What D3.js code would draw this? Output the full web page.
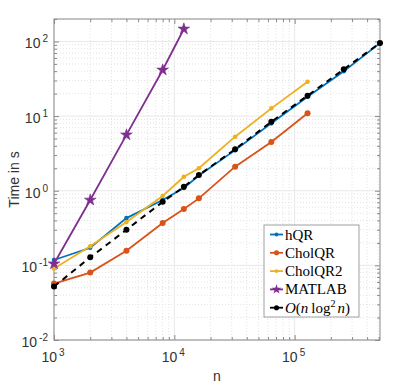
<!DOCTYPE html>
<html>
<head>
<meta charset="utf-8">
<script src="https://cdn.jsdelivr.net/npm/d3@7"></script>
<style>
body { margin: 0; background: #fff; }
</style>
</head>
<body>
<div id="chart"></div>
<script>
var nAll = [1000, 2000, 4000, 8000, 12000, 16000, 32000, 64000, 128000, 256000, 512000];
var hqr = [0.118, 0.172, 0.43, 0.75, 1.09, 1.6, 3.5, 8.0, 18.2, 40, 95];
var cholqr = [0.057, 0.080, 0.157, 0.37, 0.57, 0.79, 2.1, 4.5, 10.9];
var cholqr2 = [0.091, 0.18, 0.38, 0.85, 1.54, 2.0, 5.3, 12.7, 28.9];
var matlab = [0.105, 0.75, 5.6, 41.5, 147];
var model = [0.052, 0.128, 0.30, 0.71, 1.13, 1.62, 3.6, 8.4, 18.8, 42.4, 95.5];
var xTicks = [1e3, 1e4, 1e5];
var yTicks = [1e-2, 1e-1, 1e0, 1e1, 1e2];

var margin = { top: 19, right: 27, bottom: 45, left: 54 },
    width = 407 - margin.left - margin.right,
    h = 321;

var svg = d3.select("#chart")
    .append("svg")
    .attr("width", 407)
    .attr("height", 385);

var g = svg.append("g")
    .attr("transform", "translate(" + margin.left + "," + margin.top + ")");

var x = d3.scaleLog().domain([1000, 512000]).range([0, width]);
var y = d3.scaleLog().domain([0.01, 200]).range([h, 0]);

// minor tick values
var xMinor = [], yMinor = [];
[1e3, 1e4, 1e5].forEach(function (d) {
    for (var k = 2; k <= 9; k++) if (d * k <= 512000) xMinor.push(d * k);
});
[1e-2, 1e-1, 1, 10, 100].forEach(function (d) {
    for (var k = 2; k <= 9; k++) if (d * k <= 200) yMinor.push(d * k);
});

// grid
g.append("g").selectAll("line").data(xMinor).enter().append("line")
    .attr("x1", function (d) { return x(d); }).attr("x2", function (d) { return x(d); })
    .attr("y1", 0).attr("y2", h)
    .attr("stroke", "#e2e2e2").attr("stroke-dasharray", "1,2");
g.append("g").selectAll("line").data(yMinor).enter().append("line")
    .attr("y1", function (d) { return y(d); }).attr("y2", function (d) { return y(d); })
    .attr("x1", 0).attr("x2", width)
    .attr("stroke", "#e2e2e2").attr("stroke-dasharray", "1,2");
g.append("g").selectAll("line").data(xTicks).enter().append("line")
    .attr("x1", function (d) { return x(d); }).attr("x2", function (d) { return x(d); })
    .attr("y1", 0).attr("y2", h)
    .attr("stroke", "#e8e8e8");
g.append("g").selectAll("line").data(yTicks).enter().append("line")
    .attr("y1", function (d) { return y(d); }).attr("y2", function (d) { return y(d); })
    .attr("x1", 0).attr("x2", width)
    .attr("stroke", "#e8e8e8");

// axes with inward ticks on all four sides
function styleAxis(sel) {
    sel.select(".domain").remove();
    sel.selectAll("line").attr("stroke", "#8a8a8a");
}
g.append("g").attr("transform", "translate(0," + h + ")")
    .call(d3.axisBottom(x).tickValues(xTicks).tickSize(-5).tickFormat("")).call(styleAxis);
g.append("g").attr("transform", "translate(0," + h + ")")
    .call(d3.axisBottom(x).tickValues(xMinor).tickSize(-3).tickFormat("")).call(styleAxis);
g.append("g")
    .call(d3.axisTop(x).tickValues(xTicks).tickSize(-5).tickFormat("")).call(styleAxis);
g.append("g")
    .call(d3.axisTop(x).tickValues(xMinor).tickSize(-3).tickFormat("")).call(styleAxis);
g.append("g")
    .call(d3.axisLeft(y).tickValues(yTicks).tickSize(-5).tickFormat("")).call(styleAxis);
g.append("g")
    .call(d3.axisLeft(y).tickValues(yMinor).tickSize(-3).tickFormat("")).call(styleAxis);
g.append("g").attr("transform", "translate(" + width + ",0)")
    .call(d3.axisRight(y).tickValues(yTicks).tickSize(-5).tickFormat("")).call(styleAxis);
g.append("g").attr("transform", "translate(" + width + ",0)")
    .call(d3.axisRight(y).tickValues(yMinor).tickSize(-3).tickFormat("")).call(styleAxis);

g.append("rect")
    .attr("x", 0).attr("y", 0).attr("width", width).attr("height", h)
    .attr("fill", "none").attr("stroke", "#8a8a8a");

// tick labels 10^k
var font = "'Liberation Sans', Arial, sans-serif";
xTicks.forEach(function (d) {
    var t = g.append("text")
        .attr("x", x(d) - 1).attr("y", h + 22)
        .attr("text-anchor", "middle")
        .attr("font-family", font).attr("font-size", 14).attr("fill", "#333");
    t.append("tspan").text("10");
    t.append("tspan").attr("dx", 2).attr("dy", -6).attr("font-size", 10).text(Math.round(Math.log10(d)));
});
yTicks.forEach(function (d) {
    var t = g.append("text")
        .attr("x", -6).attr("y", y(d) + 7)
        .attr("text-anchor", "end")
        .attr("font-family", font).attr("font-size", 14).attr("fill", "#333");
    t.append("tspan").text("10");
    t.append("tspan").attr("dx", 2).attr("dy", -6).attr("font-size", 10).text(Math.round(Math.log10(d)));
});

// axis labels
g.append("text")
    .attr("x", width / 2).attr("y", h + 41)
    .attr("text-anchor", "middle")
    .attr("font-family", font).attr("font-size", 14).attr("fill", "#333")
    .text("n");
g.append("text")
    .attr("transform", "translate(-35," + (h / 2) + ") rotate(-90)")
    .attr("text-anchor", "middle")
    .attr("font-family", font).attr("font-size", 14).attr("fill", "#333")
    .text("Time in s");

// series
var series = [
    { name: "hQR", vals: hqr, color: "#0072BD", marker: "dot", r: 2.3 },
    { name: "CholQR", vals: cholqr, color: "#D95319", marker: "dot", r: 3 },
    { name: "CholQR2", vals: cholqr2, color: "#EDB120", marker: "dot", r: 2.3 },
    { name: "MATLAB", vals: matlab, color: "#7E2F8E", marker: "star", r: 0 },
    { name: "model", vals: model, color: "#000000", marker: "dot", r: 3, dash: "6,5" }
];

var line = d3.line()
    .x(function (d) { return x(d[0]); })
    .y(function (d) { return y(d[1]); });

series.forEach(function (s) {
    var pts = s.vals.map(function (v, i) { return [nAll[i], v]; });
    g.append("path")
        .datum(pts)
        .attr("fill", "none")
        .attr("stroke", s.color)
        .attr("stroke-width", s.dash ? 2 : 1.8)
        .attr("stroke-dasharray", s.dash || null)
        .attr("d", line);
    if (s.marker === "star") {
        g.selectAll(null).data(pts).enter().append("path")
            .attr("transform", function (d) { return "translate(" + x(d[0]) + "," + y(d[1]) + ")"; })
            .attr("d", d3.symbol().type(d3.symbolStar).size(42))
            .attr("fill", s.color).attr("stroke", s.color).attr("stroke-width", 0.6);
    } else {
        g.selectAll(null).data(pts).enter().append("circle")
            .attr("cx", function (d) { return x(d[0]); })
            .attr("cy", function (d) { return y(d[1]); })
            .attr("r", s.r)
            .attr("fill", s.color);
    }
});

// legend
var lx = 264 - margin.left, ly = 225 - margin.top;
var leg = g.append("g").attr("transform", "translate(" + lx + "," + ly + ")");
leg.append("rect")
    .attr("width", 95).attr("height", 92)
    .attr("fill", "#fff").attr("stroke", "#a0a0a0");
var serif = "'Liberation Serif', 'Times New Roman', serif";
series.forEach(function (s, i) {
    var yy = 9.5 + i * 18.3;
    leg.append("line")
        .attr("x1", 6).attr("x2", 19).attr("y1", yy).attr("y2", yy)
        .attr("stroke", s.color).attr("stroke-width", 1.8);
    if (s.marker === "star") {
        leg.append("path")
            .attr("transform", "translate(12.5," + yy + ")")
            .attr("d", d3.symbol().type(d3.symbolStar).size(30))
            .attr("fill", s.color);
    } else {
        leg.append("circle").attr("cx", 12.5).attr("cy", yy).attr("r", s.r * 0.85).attr("fill", s.color);
    }
    var t = leg.append("text")
        .attr("x", 21).attr("y", yy + 5)
        .attr("font-family", serif).attr("font-size", 15).attr("fill", "#000");
    if (s.name === "model") {
        t.append("tspan").attr("font-style", "italic").text("O");
        t.append("tspan").text("(");
        t.append("tspan").attr("font-style", "italic").text("n");
        t.append("tspan").attr("dx", 3).text("log");
        t.append("tspan").attr("dy", -6).attr("font-size", 10).text("2");
        t.append("tspan").attr("dy", 6).attr("dx", 2).attr("font-style", "italic").text("n");
        t.append("tspan").text(")");
    } else {
        t.text(s.name);
    }
});
</script>
</body>
</html>
